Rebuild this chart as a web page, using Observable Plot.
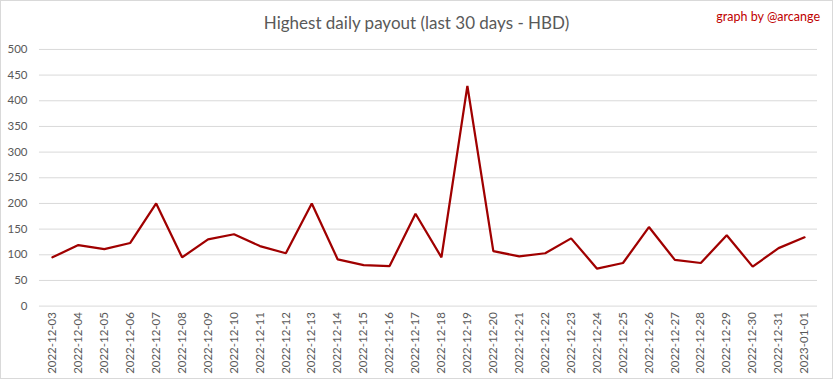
<!DOCTYPE html>
<html>
<head>
<meta charset="utf-8">
<script src="https://cdn.jsdelivr.net/npm/d3@7"></script>
<script src="https://cdn.jsdelivr.net/npm/@observablehq/plot@0.6"></script>
<style>
  html, body { margin: 0; padding: 0; background: #fff; }
  #wrap { position: relative; width: 833px; height: 379px; box-sizing: border-box; border: 1px solid #d9d9d9; overflow: hidden; }
  #title { position: absolute; left: 0; right: 0; top: 11px; text-align: center; font-family: Lato, Roboto, sans-serif; font-size: 17px; color: #595959; }
  #credit { position: absolute; right: 12px; top: 8px; font-family: Lato, Roboto, sans-serif; font-size: 12.5px; color: #c00000; }
  #chart { position: absolute; left: -1px; top: -1px; }
</style>
</head>
<body>
<div id="wrap">
  <div id="chart"></div>
  <div id="title">Highest daily payout (last 30 days - HBD)</div>
  <div id="credit">graph by @arcange</div>
</div>
<script>
const dates = ["2022-12-03","2022-12-04","2022-12-05","2022-12-06","2022-12-07","2022-12-08","2022-12-09","2022-12-10","2022-12-11","2022-12-12","2022-12-13","2022-12-14","2022-12-15","2022-12-16","2022-12-17","2022-12-18","2022-12-19","2022-12-20","2022-12-21","2022-12-22","2022-12-23","2022-12-24","2022-12-25","2022-12-26","2022-12-27","2022-12-28","2022-12-29","2022-12-30","2022-12-31","2023-01-01"];
const payouts = [95,119,111,123,200,95,130,140,117,103,200,91,80,78,180,95,429,107,97,103,132,73,84,154,90,84,138,77,113,134];
const yTicks = [0,50,100,150,200,250,300,350,400,450,500];

const data = dates.map((d, i) => ({date: d, value: payouts[i]}));

const chart = Plot.plot({
  width: 833,
  height: 379,
  marginTop: 49,
  marginBottom: 73,
  marginLeft: 39,
  marginRight: 15,
  style: {fontFamily: "Lato, Roboto, sans-serif", fontSize: "11.5px", color: "#595959", background: "transparent"},
  x: {type: "point", domain: dates, padding: 0.5, round: false, label: null, tickRotate: -90, tickSize: 0, tickPadding: 6},
  y: {domain: [0, 500], ticks: yTicks, label: null, tickSize: 0, tickPadding: 12},
  marks: [
    Plot.ruleY(yTicks, {stroke: "#d9d9d9", strokeWidth: 1}),
    Plot.line(data, {x: "date", y: "value", stroke: "#a00000", strokeWidth: 2.25, strokeLinejoin: "miter"})
  ]
});
document.getElementById("chart").appendChild(chart);
</script>
</body>
</html>
